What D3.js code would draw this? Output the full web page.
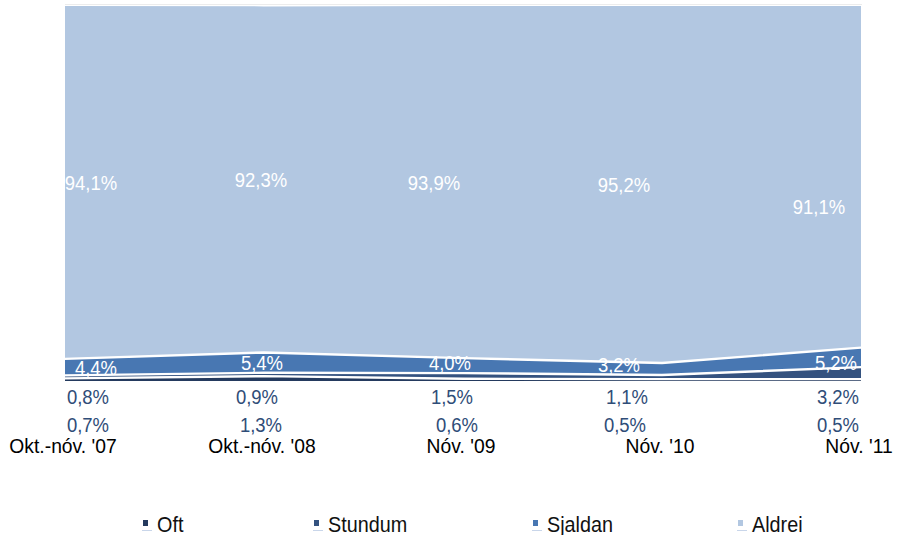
<!DOCTYPE html>
<html>
<head>
<meta charset="utf-8">
<script src="https://cdn.jsdelivr.net/npm/d3@7/dist/d3.min.js"></script>
<style>
  html, body { margin: 0; padding: 0; background: #fff; }
  svg { display: block; font-family: "Liberation Sans", Arial, sans-serif; }
</style>
</head>
<body>
<svg id="chart" width="907" height="535"></svg>
<script>
// Survey periods and answer shares (%)
const categories = ["Okt.-nóv. '07", "Okt.-nóv. '08", "Nóv. '09", "Nóv. '10", "Nóv. '11"];
const seriesNames = ["Oft", "Stundum", "Sjaldan", "Aldrei"];
const oft     = [0.7, 1.3, 0.6, 0.5, 0.5];
const stundum = [0.8, 0.9, 1.5, 1.1, 3.2];
const sjaldan = [4.4, 5.4, 4.0, 3.2, 5.2];
const aldrei  = [94.1, 92.3, 93.9, 95.2, 91.1];
const seriesColors = ["#243a5e", "#34527f", "#4877b2", "#b2c7e1"];

const valuesBySeries = { Oft: oft, Stundum: stundum, Sjaldan: sjaldan, Aldrei: aldrei };
const rows = categories.map((c, i) => {
  const r = { cat: c };
  seriesNames.forEach(s => r[s] = valuesBySeries[s][i]);
  return r;
});

const svg = d3.select("#chart");
const plot = { left: 65, right: 861, top: 6, bottom: 381 };

const x = d3.scalePoint().domain(categories).range([plot.left, plot.right]);
const y = d3.scaleLinear().domain([0, 100]).range([plot.bottom, plot.top]);
const color = d3.scaleOrdinal().domain(seriesNames).range(seriesColors);

const stacked = d3.stack().keys(seriesNames)(rows);

// faint frame line above the plot
svg.append("line")
  .attr("x1", plot.left).attr("x2", plot.right + 1)
  .attr("y1", plot.top - 1.5).attr("y2", plot.top - 1.5)
  .attr("stroke", "#ececec").attr("stroke-width", 1);

const area = d3.area()
  .x(d => x(d.data.cat))
  .y0(d => y(d[0]))
  .y1(d => y(d[1]));

svg.append("g").selectAll("path")
  .data(stacked)
  .join("path")
  .attr("d", area)
  .attr("fill", d => color(d.key));

// white separators along the top edge of each lower band
const edge = d3.line()
  .x(d => x(d.data.cat))
  .y(d => y(d[1]));

svg.append("g").selectAll("path")
  .data(stacked.filter(s => s.key !== "Aldrei"))
  .join("path")
  .attr("d", edge)
  .attr("fill", "none")
  .attr("stroke", "#fff")
  .attr("stroke-width", 2.4);

// label placement tweaks per series and period
const labelDx = {
  Aldrei:  [26, -3, -29, -38, -42],
  Sjaldan: [31, -2, -13, -43, -25],
  Stundum: [23, -7, -11, -35, -23],
  Oft:     [23, -3, -6, -37, -23]
};
const labelDy = {
  Aldrei:  [0, 0, 0, 0, 30],
  Sjaldan: [0, 0, -3, -5, 5]
};

const fmt = v => d3.format(".1f")(v).replace(".", ",") + "%";

function scaledText(g, tx, ty, txt, size, fill, anchor, sx) {
  g.append("text")
    .attr("transform", `translate(${tx},${ty}) scale(${sx},1)`)
    .attr("text-anchor", anchor)
    .attr("font-size", size)
    .attr("fill", fill)
    .text(txt);
}

const labels = svg.append("g");
stacked.forEach(s => {
  s.forEach((d, i) => {
    const cx = x(d.data.cat) + labelDx[s.key][i];
    let cy;
    if (s.key === "Aldrei" || s.key === "Sjaldan") {
      cy = (y(d[0]) + y(d[1])) / 2 + labelDy[s.key][i];
    } else if (s.key === "Stundum") {
      cy = plot.bottom + 15;
    } else {
      cy = plot.bottom + 43;
    }
    const fill = (s.key === "Aldrei" || s.key === "Sjaldan") ? "#ffffff" : "#2f4d78";
    scaledText(labels, cx, cy + 7.5, fmt(valuesBySeries[s.key][i]), 21, fill, "middle", 0.88);
  });
});

// category axis labels
const axisG = svg.append("g");
categories.forEach(c => {
  scaledText(axisG, x(c) - 2, 453, c, 21, "#000", "middle", 0.92);
});

// legend
const legendX = [157, 328, 547, 752];
const legend = svg.append("g");
seriesNames.forEach((s, i) => {
  const lx = legendX[i];
  legend.append("line")
    .attr("x1", lx - 15).attr("x2", lx - 5)
    .attr("y1", 530.5).attr("y2", 530.5)
    .attr("stroke", "#c9d6ea").attr("stroke-width", 1);
  legend.append("rect")
    .attr("x", lx - 14).attr("y", 520)
    .attr("width", 5).attr("height", 6)
    .attr("fill", color(s));
  scaledText(legend, lx, 532, s, 22, "#111", "start", 0.9);
});
</script>
</body>
</html>
